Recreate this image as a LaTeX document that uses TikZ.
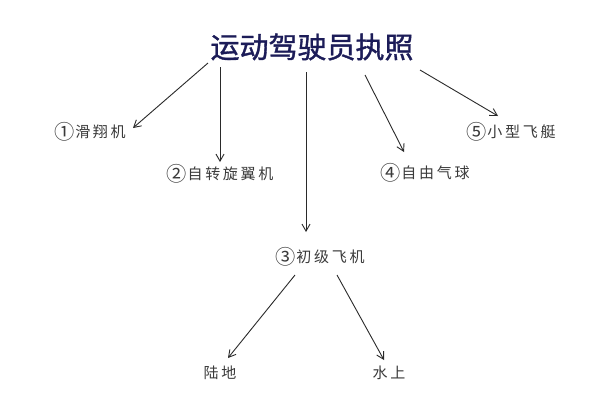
\documentclass[tikz,border=0pt]{standalone}
\usepackage{fontspec}
\usetikzlibrary{arrows.meta}
\newfontfamily\cjk[FakeBold=1.2]{Noto Sans CJK SC}
\newfontfamily\cjkls[LetterSpace=18]{Noto Sans CJK SC}
\newcommand\circnum[1]{\raisebox{-0.12em}{\scalebox{1.35}{#1}}\hspace{0.05em}}
\definecolor{titleblue}{HTML}{1C1C58}
\definecolor{labelgray}{HTML}{3A3A3A}
\definecolor{linegray}{HTML}{2A2A2A}
\tikzset{
  titlebox/.style={inner sep=0pt, text=titleblue, font=\cjk\fontsize{29}{32}\selectfont},
  leaf/.style={inner sep=0pt, text=labelgray, font=\cjkls\fontsize{15}{18}\selectfont},
  arr/.style={draw=linegray, line width=0.9pt, -{Straight Barb[length=7pt,width=8pt]}}
}
\begin{document}
\begin{tikzpicture}[x=1pt,y=-1pt]
\useasboundingbox (0,0) rectangle (602,400);
\fill[white] (0,0) rectangle (602,400);
\node[titlebox] (title) at (312,47) {运动驾驶员执照};
\node[leaf] (n1) at (90,132) {\circnum{①}滑翔机};
\node[leaf] (n2) at (220,174) {\circnum{②}自转旋翼机};
\node[leaf] (n3) at (320,257) {\circnum{③}初级飞机};
\node[leaf] (n4) at (425,173) {\circnum{④}自由气球};
\node[leaf] (n5) at (511,132) {\circnum{⑤}小型飞艇};
\node[leaf] (n6) at (220,373) {陆地};
\node[leaf] (n7) at (389,373) {水上};
\draw[arr] ([shift={(-104,16)}]title.center) -- ([shift={(43,-4)}]n1.center);
\draw[arr] ([shift={(-92,20)}]title.center) -- ([shift={(0,-12)}]n2.center);
\draw[arr] ([shift={(-6,25)}]title.center) -- ([shift={(-14,-25)}]n3.center);
\draw[arr] ([shift={(53,28)}]title.center) -- ([shift={(-21,-21)}]n4.center);
\draw[arr] ([shift={(108,23)}]title.center) -- ([shift={(-13,-16)}]n5.center);
\draw[arr] ([shift={(-25,18)}]n3.center) -- ([shift={(8,-15)}]n6.center);
\draw[arr] ([shift={(17,18)}]n3.center) -- ([shift={(-5,-13)}]n7.center);
\end{tikzpicture}
\end{document}
